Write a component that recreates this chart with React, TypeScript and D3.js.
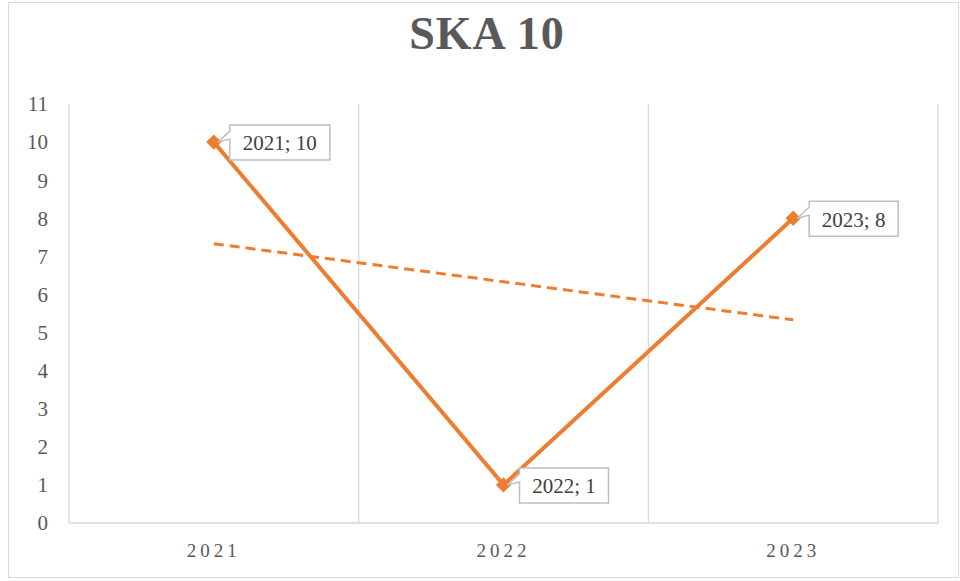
import React from 'react';
import * as d3 from 'd3';

const years = ['2021', '2022', '2023'];
const values = [10, 1, 8];
const yTicks = d3.range(0, 12);

const W = 960;
const H = 581;
const margin = { top: 104, right: 22, bottom: 58, left: 69 };
const orange = '#ED7D31';
const grid = '#D9D9D9';
const font = '"Liberation Serif", "Times New Roman", serif';

// linear trendline (least squares over index 1..n)
const trend = (() => {
  const xs = values.map((_, i) => i + 1);
  const mx = d3.mean(xs) as number;
  const my = d3.mean(values) as number;
  const slope = d3.sum(xs, (x, i) => (x - mx) * (values[i] - my)) / d3.sum(xs, x => (x - mx) ** 2);
  return xs.map(x => my + slope * (x - mx));
})();

const App = () => {
  const innerW = W - margin.left - margin.right;
  const innerH = H - margin.top - margin.bottom;

  const x = d3.scaleBand().domain(years).range([0, innerW]);
  const y = d3.scaleLinear().domain([0, 11]).range([innerH, 0]);
  const cx = (d: string) => (x(d) as number) + x.bandwidth() / 2;

  const line = d3.line<number>().x((_, i) => cx(years[i])).y(d => y(d));
  const diamond = d3.symbol(d3.symbolDiamond2, 150);

  const labelW = [100, 89, 89];
  const callout = (px: number, py: number, bw: number) => {
    const x0 = px + 16;
    const y0 = py - 17;
    const h = 35;
    return `M${x0},${y0} H${x0 + bw} V${y0 + h} H${x0} V${y0 + 14} L${px + 4},${py} L${x0},${y0 + 6} Z`;
  };

  return (
    <svg width={W} height={H} style={{ position: 'absolute', left: 0, top: 0, background: '#fff' }}>
      <rect x={8.5} y={2.5} width={950} height={575} fill="#fff" stroke={grid} />
      <text x={487} y={49} textAnchor="middle" fontFamily={font} fontWeight="bold" fontSize={46}
        fill="#595959" letterSpacing={1}>SKA 10</text>
      <g transform={`translate(${margin.left},${margin.top})`}>
        {years.map(d => (
          <line key={d} x1={(x(d) as number) + x.bandwidth()} x2={(x(d) as number) + x.bandwidth()}
            y1={0} y2={innerH} stroke={grid} strokeWidth={1.3} />
        ))}
        <line x1={0} x2={0} y1={0} y2={innerH} stroke={grid} strokeWidth={1.3} />
        <line x1={0} x2={innerW} y1={innerH} y2={innerH} stroke={grid} strokeWidth={1.3} />
        {yTicks.map(t => (
          <text key={t} x={-21} y={y(t)} dy="0.35em" textAnchor="end" fontFamily={font}
            fontSize={21} fill="#595959">{t}</text>
        ))}
        {years.map(d => (
          <text key={d} x={cx(d)} y={innerH + 34} textAnchor="middle" fontFamily={font}
            fontSize={19} letterSpacing={4} fill="#595959">{d}</text>
        ))}
        <path d={line(trend) as string} fill="none" stroke={orange} strokeWidth={3}
          strokeDasharray="10 6" />
        <path d={line(values) as string} fill="none" stroke={orange} strokeWidth={4} />
        {values.map((v, i) => (
          <path key={i} d={diamond() as string} transform={`translate(${cx(years[i])},${y(v)})`}
            fill={orange} />
        ))}
        {values.map((v, i) => {
          const px = cx(years[i]);
          const py = y(v);
          return (
            <g key={i}>
              <path d={callout(px, py, labelW[i])} fill="#fff" stroke="#BFBFBF" strokeWidth={1.5} />
              <text x={px + 16 + labelW[i] / 2} y={py + 1} dy="0.35em" textAnchor="middle"
                fontFamily={font} fontSize={21} fill="#404040">{`${years[i]}; ${v}`}</text>
            </g>
          );
        })}
      </g>
    </svg>
  );
};

export default App;
